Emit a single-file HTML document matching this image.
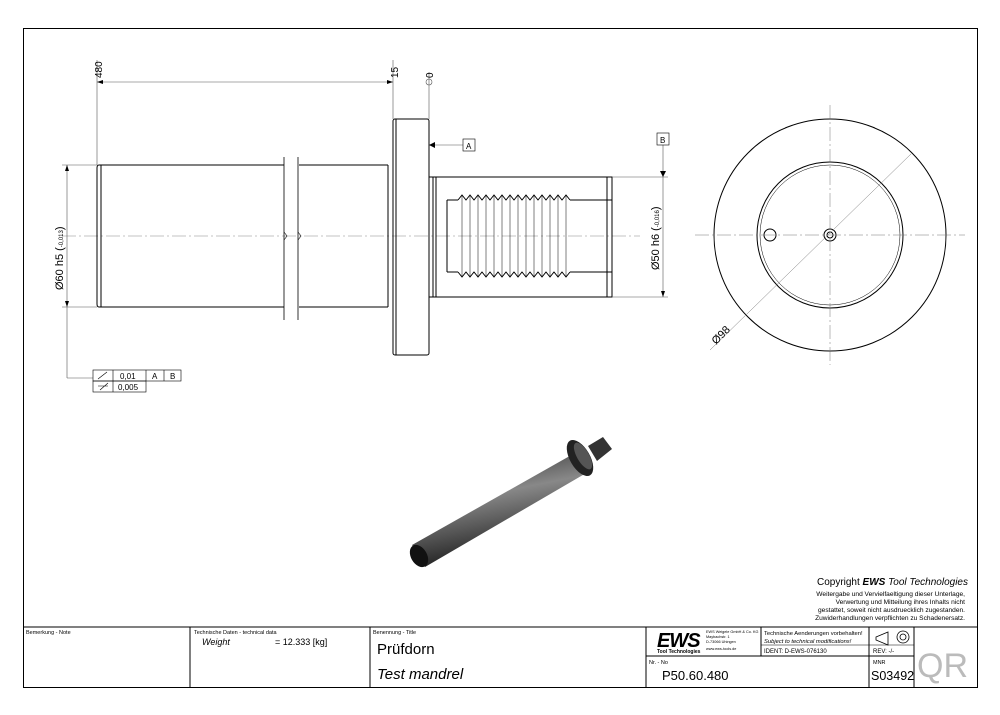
<!DOCTYPE html>
<html><head><meta charset="utf-8"><style>
html,body{margin:0;padding:0;background:#fff}
svg{display:block}
text{font-family:"Liberation Sans",sans-serif}
</style></head><body>
<svg width="1000" height="715" viewBox="0 0 1000 715" xmlns="http://www.w3.org/2000/svg">
<defs>
<linearGradient id="g" x1="0" y1="0" x2="0.3" y2="1">
<stop offset="0" stop-color="#222"/><stop offset="0.45" stop-color="#888"/><stop offset="1" stop-color="#1a1a1a"/>
</linearGradient>
</defs>
<rect x="23.5" y="28.5" width="954" height="659" fill="none" stroke="#000" stroke-width="1"/>
<line x1="62" y1="236" x2="640" y2="236" stroke="#888" stroke-width="0.6" stroke-dasharray="14,3,2,3"/>
<g stroke="#000" stroke-width="1" fill="none">
<path d="M99 165 H284 M299 165 H388 M99 307 H284 M299 307 H388"/>
<path d="M99 165 Q97 165 97 168 V304 Q97 307 99 307 M101 165 V307"/>
<path d="M388 165 V307 M393 165 V307"/>
<path d="M284 157 V320 M298 157 V320" stroke-width="0.8"/>
<path d="M284 232 L287 236 L284 240 M298 232 L301 236 L298 240" stroke-width="0.6"/>
<rect x="393" y="119" width="36" height="236" rx="2"/>
<line x1="396" y1="119" x2="396" y2="355"/>
<path d="M429 177 H612 V297 H429 M433 177 V297 M436 177 V297 M607 177 V297"/>
<path d="M447 200 H458 M447 272 H458 M447 200 V272 M570 200 H612 M570 272 H612"/>
<path d="M458 200 L462 195 L466 200 L470 195 L474 200 L478 195 L482 200 L486 195 L490 200 L494 195 L498 200 L502 195 L506 200 L510 195 L514 200 L518 195 L522 200 L526 195 L530 200 L534 195 L538 200 L542 195 L546 200 L550 195 L554 200 L558 195 L562 200 L566 195 L570 200"/>
<path d="M458 272 L462 277 L466 272 L470 277 L474 272 L478 277 L482 272 L486 277 L490 272 L494 277 L498 272 L502 277 L506 272 L510 277 L514 272 L518 277 L522 272 L526 277 L530 272 L534 277 L538 272 L542 277 L546 272 L550 277 L554 272 L558 277 L562 272 L566 277 L570 272"/>
<path d="M462 195 V277 M470 195 V277 M478 195 V277 M486 195 V277 M494 195 V277 M502 195 V277 M510 195 V277 M518 195 V277 M526 195 V277 M534 195 V277 M542 195 V277 M550 195 V277 M558 195 V277 M566 195 V277" stroke-width="0.5"/>
</g>
<g stroke="#555" stroke-width="0.6" fill="none">
<line x1="97" y1="60" x2="97" y2="165"/><line x1="393" y1="60" x2="393" y2="119"/><line x1="429" y1="72" x2="429" y2="119"/>
<line x1="97" y1="82" x2="393" y2="82"/>
<line x1="62" y1="165" x2="97" y2="165"/><line x1="62" y1="307" x2="97" y2="307"/>
<line x1="67" y1="165" x2="67" y2="378"/><line x1="67" y1="378" x2="93" y2="378"/>
<line x1="612" y1="177" x2="668" y2="177"/><line x1="612" y1="297" x2="668" y2="297"/>
<line x1="663" y1="145" x2="663" y2="297"/>
<line x1="429" y1="145" x2="463" y2="145"/>
</g>
<g fill="#000">
<path d="M97 82 l6 -2 v4z M393 82 l-6 -2 v4z M67 165 l-2 6 h4z M67 307 l-2 -6 h4z M663 177 l-3 -6 h6z M663 297 l-2 -6 h4z M429 145 l6 -3 v6z"/>
</g>
<circle cx="429" cy="82" r="3" fill="none" stroke="#555" stroke-width="0.6"/>
<g font-size="10" fill="#000">
<text transform="translate(102,78) rotate(-90)">480</text>
<text transform="translate(398,78) rotate(-90)">15</text>
<text transform="translate(433,78) rotate(-90)">0</text>
<text transform="translate(63,290) rotate(-90)" font-size="11">Ø60 h5 (<tspan font-size="6">-0,013</tspan>)</text>
<text transform="translate(659,270) rotate(-90)" font-size="11">Ø50 h6 (<tspan font-size="6">-0,016</tspan>)</text>
</g>
<rect x="463" y="139" width="12" height="12" fill="none" stroke="#000" stroke-width="0.6"/><text x="466" y="149" font-size="8">A</text>
<rect x="657" y="133" width="12" height="12" fill="none" stroke="#000" stroke-width="0.6"/><text x="660" y="143" font-size="8">B</text>
<g stroke="#000" stroke-width="0.6" fill="none">
<rect x="93" y="370" width="88" height="11"/><rect x="93" y="381" width="53" height="11"/>
<line x1="113" y1="370" x2="113" y2="392"/><line x1="146" y1="370" x2="146" y2="381"/><line x1="164" y1="370" x2="164" y2="381"/>
<path d="M98 379 l9 -7 M100 390 l8 -7 M98 386 h10"/>
</g>
<g font-size="8"><text x="120" y="379">0,01</text><text x="152" y="379">A</text><text x="170" y="379">B</text><text x="118" y="390">0,005</text></g>
<g stroke="#000" fill="none" stroke-width="1">
<circle cx="830" cy="235" r="116"/>
<circle cx="830" cy="235" r="73"/>
<circle cx="830" cy="235" r="70" stroke-width="0.5"/>
<circle cx="830" cy="235" r="6"/><circle cx="830" cy="235" r="3"/>
<circle cx="770" cy="235" r="6"/>
</g>
<g stroke="#777" stroke-width="0.5"><line x1="695" y1="235" x2="965" y2="235" stroke-dasharray="14,3,2,3"/><line x1="830" y1="105" x2="830" y2="365" stroke-dasharray="14,3,2,3"/>
<line x1="710" y1="350" x2="912" y2="153"/></g>
<text transform="translate(716,345) rotate(-45)" font-size="11">Ø98</text>
<g>
<path d="M412 545 L575 453 L588 472 L425 567 Z" fill="url(#g)"/>
<ellipse cx="419" cy="556" rx="8" ry="12" transform="rotate(-30 419 556)" fill="#111"/>
<path d="M588 446 L603 437 L612 449 L597 461Z" fill="#333"/>
<ellipse cx="580" cy="458" rx="10" ry="20" transform="rotate(-30 580 458)" fill="#222"/>
<ellipse cx="583" cy="456" rx="6" ry="15" transform="rotate(-30 583 456)" fill="#555"/>
</g>
<text x="968" y="585" font-size="10" text-anchor="end">Copyright <tspan font-weight="bold" font-style="italic">EWS</tspan> <tspan font-style="italic">Tool Technologies</tspan></text>
<g font-size="6.6" text-anchor="end"><text x="965" y="596">Weitergabe und Vervielfaeltigung dieser Unterlage,</text>
<text x="965" y="604">Verwertung und Mitteilung ihres Inhalts nicht</text>
<text x="965" y="612">gestattet, soweit nicht ausdruecklich zugestanden.</text>
<text x="965" y="620">Zuwiderhandlungen verpflichten zu Schadenersatz.</text></g>
<g stroke="#000" stroke-width="1" fill="none">
<line x1="23" y1="627" x2="977" y2="627"/>
<line x1="190" y1="627" x2="190" y2="687"/><line x1="370" y1="627" x2="370" y2="687"/>
<line x1="646" y1="627" x2="646" y2="687"/><line x1="914" y1="627" x2="914" y2="687"/>
<line x1="761" y1="627" x2="761" y2="656"/><line x1="869" y1="627" x2="869" y2="687"/>
<line x1="646" y1="656" x2="914" y2="656"/>
<line x1="761" y1="645" x2="914" y2="645" stroke-width="0.5"/>
<path d="M876 637 l12 -5 v13 l-12 -5z" stroke-width="0.8"/><circle cx="903" cy="637" r="6" stroke-width="0.8"/><circle cx="903" cy="637" r="3" stroke-width="0.8"/>
</g>
<g font-size="5.5" fill="#000"><text x="26" y="634">Bemerkung - Note</text><text x="194" y="634">Technische Daten - technical data</text><text x="373" y="634">Benennung - Title</text><text x="649" y="664">Nr. - No</text><text x="873" y="664">MNR</text></g>
<text x="202" y="645" font-size="9" font-style="italic">Weight</text><text x="275" y="645" font-size="9">=  12.333 [kg]</text>
<text x="377" y="654" font-size="15">Prüfdorn</text>
<text x="377" y="679" font-size="15" font-style="italic">Test mandrel</text>
<text x="657" y="647" font-size="20" font-weight="bold" font-style="italic" letter-spacing="-1">EWS</text>
<text x="657" y="653" font-size="5" font-weight="bold">Tool Technologies</text>
<g font-size="3.8"><text x="706" y="633">EWS Weigele GmbH &amp; Co. KG</text><text x="706" y="638">Maybachstr. 1</text><text x="706" y="643">D-73066 Uhingen</text><text x="706" y="650">www.ews-tools.de</text></g>
<text x="764" y="635" font-size="5.8">Technische Aenderungen vorbehalten!</text>
<text x="764" y="643" font-size="5.8" font-style="italic">Subject to technical modifications!</text>
<text x="764" y="653" font-size="6">IDENT:  D-EWS-076130</text>
<text x="873" y="653" font-size="6">REV:  -/-</text>
<text x="662" y="680" font-size="13">P50.60.480</text>
<text x="871" y="680" font-size="12.5">S03492</text>
<text x="917" y="677" font-size="34" fill="#bbb">QR</text>
</svg>
</body></html>
